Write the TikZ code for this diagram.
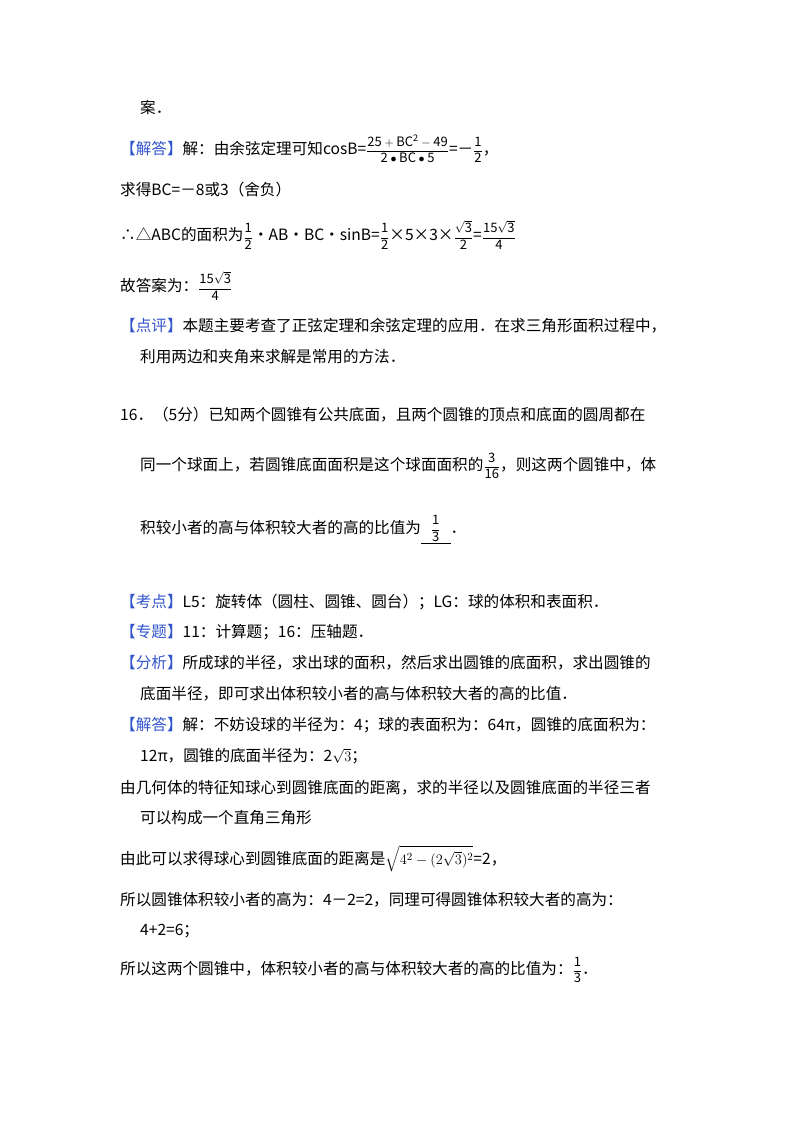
\documentclass[tikz,border=0pt]{standalone}
\usepackage{amsmath}
\usepackage{fontspec}
\setmainfont{Noto Sans CJK SC}
\definecolor{lab}{HTML}{3355CC}
\begin{document}
\begin{tikzpicture}[x=1pt,y=1pt,t/.style={anchor=west,inner sep=0pt,font=\fontsize{15.6}{18}\selectfont}]
\useasboundingbox (0,0) rectangle (800,-1132);
\newcommand{\lb}[1]{\textcolor{lab}{【#1】}}
\newcommand{\fr}[2]{{\fontsize{13}{15}\selectfont$\dfrac{\mathrm{#1}}{\mathrm{#2}}$}}
\node[t] (l1) at (140,-108) {案．};
\node[t] (l2) at (120,-149) {\lb{解答}解：由余弦定理可知cosB=\fr{25+BC^2-49}{2\bullet BC\bullet 5}=－\fr{1}{2}，};
\node[t] (l3) at (120,-190) {求得BC=－8或3（舍负）};
\node[t] (l4) at (120,-235) {∴△ABC的面积为\fr{1}{2}•AB•BC•sinB=\fr{1}{2}×5×3×\fr{\sqrt{3}}{2}=\fr{15\sqrt{3}}{4}};
\node[t] (l5) at (120,-286) {故答案为：\fr{15\sqrt{3}}{4}};
\node[t] (l6) at (120,-326) {\lb{点评}本题主要考查了正弦定理和余弦定理的应用．在求三角形面积过程中，};
\node[t] (l7) at (140,-357) {利用两边和夹角来求解是常用的方法．};
\node[t] (l8) at (120,-415) {16．（5分）已知两个圆锥有公共底面，且两个圆锥的顶点和底面的圆周都在};
\node[t] (l9) at (140,-466) {同一个球面上，若圆锥底面面积是这个球面面积的\fr{3}{16}，则这两个圆锥中，体};
\node[t] (l10) at (140,-530) {积较小者的高与体积较大者的高的比值为\underline{\hspace{10pt}\fr{1}{3}\hspace{10pt}}．};
\node[t] (l11) at (120,-602) {\lb{考点}L5：旋转体（圆柱、圆锥、圆台）；LG：球的体积和表面积．};
\node[t] (l12) at (120,-632) {\lb{专题}11：计算题；16：压轴题．};
\node[t] (l13) at (120,-663) {\lb{分析}所成球的半径，求出球的面积，然后求出圆锥的底面积，求出圆锥的};
\node[t] (l14) at (140,-694) {底面半径，即可求出体积较小者的高与体积较大者的高的比值．};
\node[t] (l15) at (120,-725) {\lb{解答}解：不妨设球的半径为：4；球的表面积为：64π，圆锥的底面积为：};
\node[t] (l16) at (140,-756) {12π，圆锥的底面半径为：2$\sqrt{3}$；};
\node[t] (l17) at (120,-788) {由几何体的特征知球心到圆锥底面的距离，求的半径以及圆锥底面的半径三者};
\node[t] (l18) at (140,-818) {可以构成一个直角三角形};
\node[t] (l19) at (120,-859) {由此可以求得球心到圆锥底面的距离是$\sqrt{4^2-(2\sqrt{3})^2}$=2，};
\node[t] (l20) at (120,-900) {所以圆锥体积较小者的高为：4－2=2，同理可得圆锥体积较大者的高为：};
\node[t] (l21) at (140,-931) {4+2=6；};
\node[t] (l22) at (120,-970) {所以这两个圆锥中，体积较小者的高与体积较大者的高的比值为：\fr{1}{3}．};
\end{tikzpicture}
\end{document}
